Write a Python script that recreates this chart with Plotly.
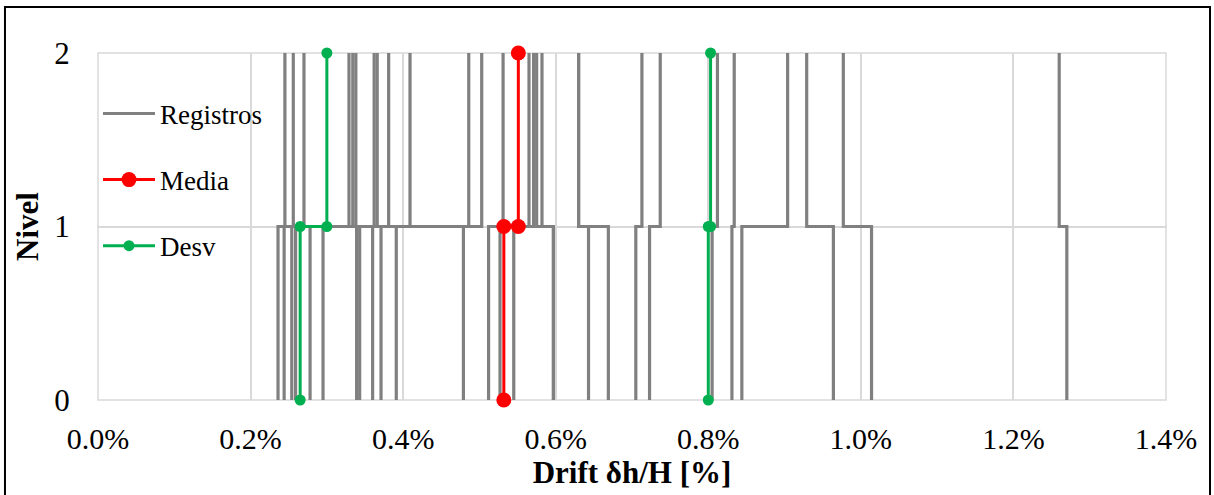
import plotly.graph_objects as go

# Storey drift per record: level 1 and level 2 (in %)
reg_nivel1 = [0.236, 0.244, 0.254, 0.259, 0.278, 0.295, 0.339, 0.343, 0.360,
              0.371, 0.391, 0.479, 0.512, 0.527, 0.545, 0.597, 0.597, 0.643,
              0.669, 0.705, 0.723, 0.805, 0.831, 0.844, 0.964, 1.014, 1.270]
reg_nivel2 = [0.245, 0.256, 0.270, 0.329, 0.334, 0.338, 0.362, 0.366, 0.381,
              0.409, 0.486, 0.503, 0.531, 0.565, 0.571, 0.575, 0.582, 0.630,
              0.630, 0.713, 0.737, 0.812, 0.834, 0.904, 0.929, 0.977, 1.260]

media = [0.532, 0.551]           # mean drift at levels 1 and 2
desv_inf = [0.265, 0.300]        # mean - std
desv_sup = [0.800, 0.803]        # mean + std

niveles = [0, 1, 2]
x_ticks = [0.0, 0.2, 0.4, 0.6, 0.8, 1.0, 1.2, 1.4]
x_tick_text = ["0.0%", "0.2%", "0.4%", "0.6%", "0.8%", "1.0%", "1.2%", "1.4%"]


def escalon(d1, d2):
    """Step profile: drift d1 between level 0 and 1, d2 between 1 and 2."""
    return [d1, d1, d2, d2], [niveles[0], niveles[1], niveles[1], niveles[2]]


xs, ys = [], []
for a, b in zip(reg_nivel1, reg_nivel2):
    px, py = escalon(a, b)
    xs += px + [None]
    ys += py + [None]

mx, my = escalon(*media)
lx, ly = escalon(*desv_inf)
ux, uy = escalon(*desv_sup)

FONT = "Liberation Serif, Times New Roman, serif"
GRIS = "#808080"
ROJO = "#FF0000"
VERDE = "#00B050"
GRID = "#D9D9D9"

fig = go.Figure()
fig.add_trace(go.Scatter(
    x=xs, y=ys, mode="lines", name="Registros",
    line=dict(color=GRIS, width=3.2), legendgroup="a",
    hoverinfo="skip", cliponaxis=False))
fig.add_trace(go.Scatter(
    x=mx, y=my, mode="lines+markers", name="Media",
    line=dict(color=ROJO, width=3), marker=dict(color=ROJO, size=15),
    legendgroup="b", cliponaxis=False))
fig.add_trace(go.Scatter(
    x=lx + [None] + ux, y=ly + [None] + uy, mode="lines+markers", name="Desv",
    line=dict(color=VERDE, width=3), marker=dict(color=VERDE, size=11),
    legendgroup="c", cliponaxis=False))

fig.update_layout(
    width=1214, height=495,
    margin=dict(l=98, r=48, t=53, b=95),
    paper_bgcolor="white", plot_bgcolor="white",
    font=dict(family=FONT, size=27, color="black"),
    showlegend=True,
    legend=dict(
        x=0.0, y=0.895, xanchor="left", yanchor="top",
        bgcolor="rgba(255,255,255,0)",
        font=dict(family=FONT, size=27, color="black"),
        traceorder="grouped", tracegroupgap=28,
        itemwidth=52,
    ),
    xaxis=dict(
        range=[0, 1.4], tickvals=x_ticks, ticktext=x_tick_text,
        showgrid=True, gridcolor=GRID, gridwidth=1.5,
        zeroline=False, showline=False,
        ticks="outside", ticklen=12, tickcolor="rgba(0,0,0,0)",
        tickfont=dict(family=FONT, size=30),
        title=dict(text="<b>Drift δh/H [%]</b>",
                   font=dict(family=FONT, size=31), standoff=2),
    ),
    yaxis=dict(
        range=[0, 2], tickvals=niveles,
        showgrid=True, gridcolor=GRID, gridwidth=1.5,
        zeroline=False, showline=False,
        ticks="outside", ticklen=21, tickcolor="rgba(0,0,0,0)",
        tickfont=dict(family=FONT, size=31),
        title=dict(text="<b>Nivel</b>",
                   font=dict(family=FONT, size=31), standoff=6),
    ),
    shapes=[
        # plot-area outline in gridline colour
        dict(type="rect", xref="paper", yref="paper", x0=0, x1=1, y0=0, y1=1,
             line=dict(color=GRID, width=1.5), layer="below"),
        # outer frame
        dict(type="rect", xref="paper", yref="paper",
             x0=-0.0871, x1=1.0412, y0=-0.35, y1=1.1326,
             line=dict(color="black", width=2), layer="above"),
    ],
)

fig.write_html("out.html")
